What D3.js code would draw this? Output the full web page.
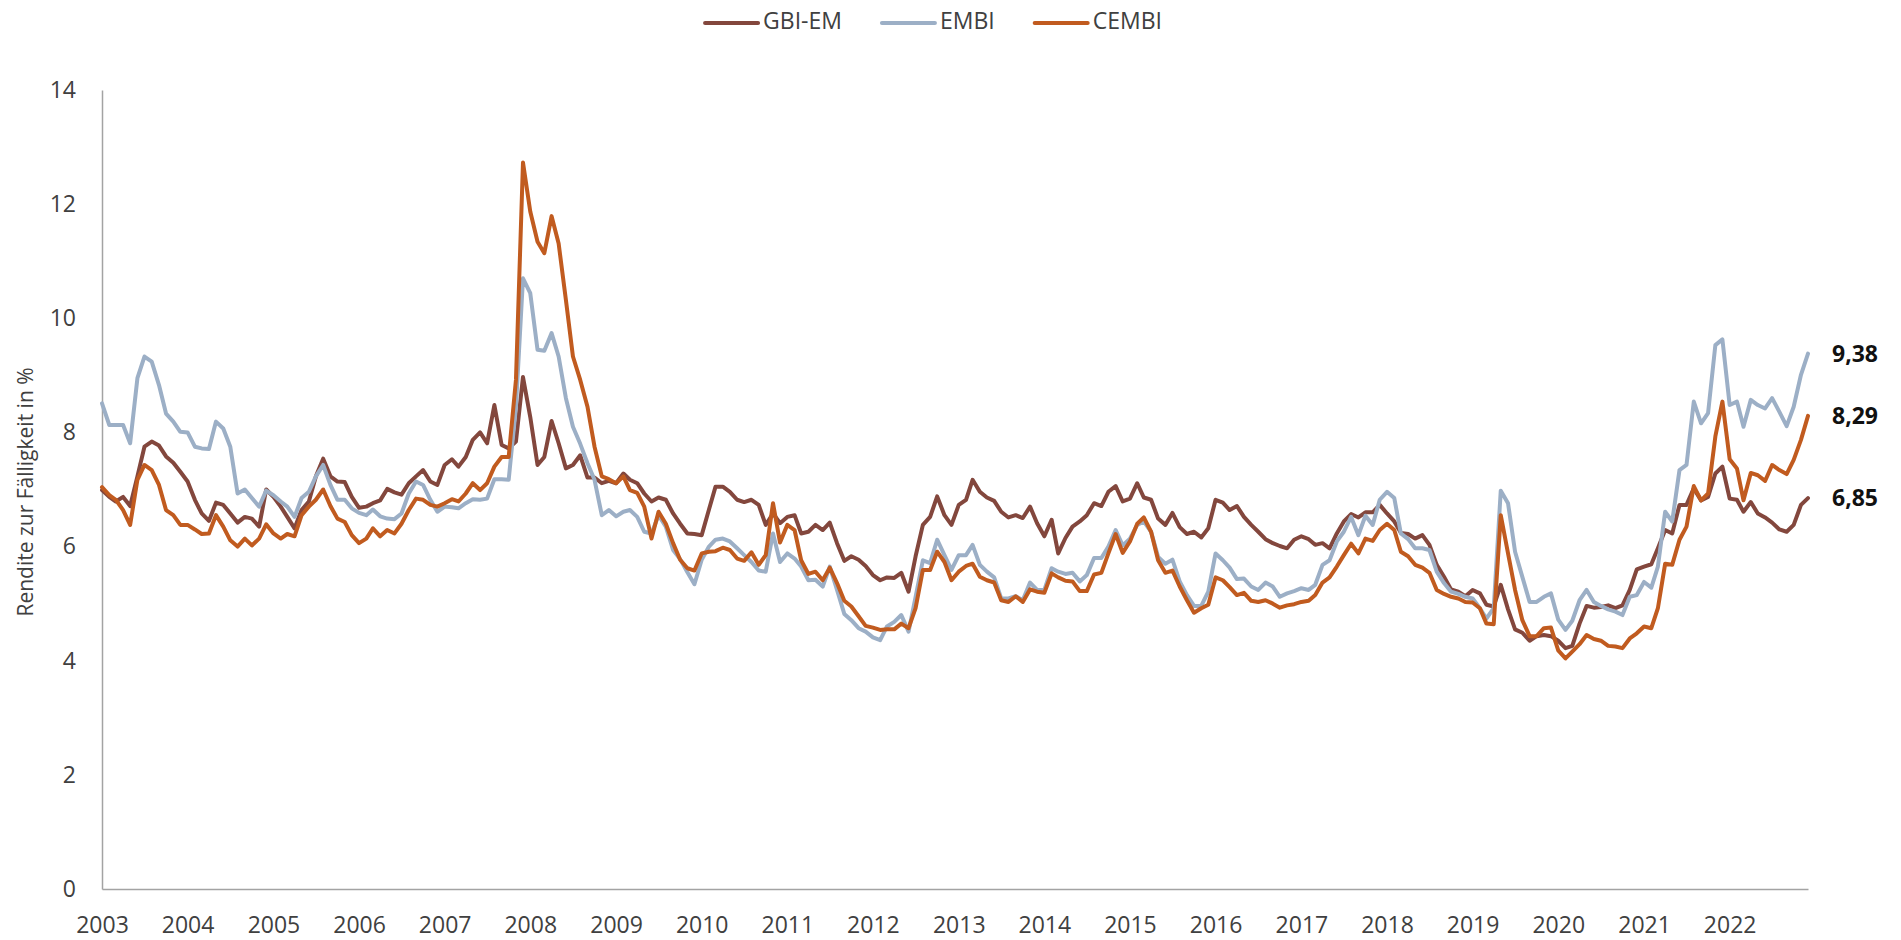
<!DOCTYPE html>
<html>
<head>
<meta charset="utf-8">
<script src="https://cdn.jsdelivr.net/npm/d3@7"></script>
<style>
  html, body { margin: 0; padding: 0; background: #fff; }
  svg { display: block; font-family: "Open Sans", "Noto Sans", sans-serif; }
</style>
</head>
<body>
<svg id="chart" width="1901" height="940"></svg>
<script>
// ---- data (monthly, Jan 2003 – Dec 2022) ----
const seriesNames = ["GBI-EM", "EMBI", "CEMBI"];
const yearLabels = ["2003","2004","2005","2006","2007","2008","2009","2010","2011","2012","2013","2014","2015","2016","2017","2018","2019","2020","2021","2022"];
const yTicks = [0, 2, 4, 6, 8, 10, 12, 14];
const endLabels = ["6,85", "9,38", "8,29"];

const gbiEm = [
  6.99, 6.87, 6.79, 6.87, 6.71, 7.23, 7.75, 7.84, 7.77, 7.58, 7.47, 7.31,
  7.14, 6.82, 6.58, 6.45, 6.77, 6.73, 6.58, 6.42, 6.52, 6.49, 6.35, 7.00,
  6.87, 6.70, 6.52, 6.32, 6.64, 6.79, 7.23, 7.54, 7.23, 7.14, 7.13, 6.87,
  6.68, 6.70, 6.76, 6.81, 7.01, 6.95, 6.91, 7.11, 7.23, 7.34, 7.14, 7.08,
  7.43, 7.53, 7.40, 7.57, 7.87, 8.00, 7.81, 8.48, 7.78, 7.72, 7.84, 8.97,
  8.27, 7.43, 7.57, 8.20, 7.81, 7.37, 7.43, 7.60, 7.21, 7.21, 7.11, 7.15,
  7.11, 7.28, 7.17, 7.11, 6.93, 6.79, 6.86, 6.82, 6.58, 6.40, 6.23, 6.22,
  6.20, 6.65, 7.05, 7.05, 6.96, 6.82, 6.78, 6.82, 6.73, 6.38, 6.58, 6.41,
  6.52, 6.55, 6.23, 6.26, 6.38, 6.29, 6.42, 6.06, 5.75, 5.83, 5.77, 5.66,
  5.50, 5.41, 5.46, 5.45, 5.54, 5.21, 5.83, 6.38, 6.52, 6.88, 6.55, 6.38,
  6.73, 6.82, 7.17, 6.96, 6.86, 6.80, 6.61, 6.51, 6.55, 6.50, 6.70, 6.41,
  6.18, 6.47, 5.88, 6.15, 6.35, 6.44, 6.55, 6.76, 6.71, 6.96, 7.06, 6.79,
  6.84, 7.11, 6.86, 6.82, 6.49, 6.38, 6.59, 6.34, 6.22, 6.26, 6.16, 6.32,
  6.82, 6.77, 6.64, 6.71, 6.52, 6.38, 6.26, 6.13, 6.06, 6.01, 5.97, 6.12,
  6.18, 6.13, 6.03, 6.06, 5.97, 6.23, 6.44, 6.57, 6.51, 6.60, 6.60, 6.73,
  6.58, 6.44, 6.24, 6.22, 6.14, 6.20, 6.03, 5.68, 5.47, 5.25, 5.21, 5.13,
  5.24, 5.18, 4.98, 4.95, 5.33, 4.90, 4.55, 4.49, 4.35, 4.43, 4.45, 4.43,
  4.35, 4.22, 4.26, 4.65, 4.96, 4.93, 4.94, 4.97, 4.92, 4.97, 5.24, 5.60,
  5.65, 5.69, 5.97, 6.29, 6.23, 6.73, 6.73, 7.02, 6.81, 6.87, 7.28, 7.40,
  6.84, 6.82, 6.61, 6.78, 6.58, 6.51, 6.42, 6.30, 6.26, 6.38, 6.73, 6.85
];

const embi = [
  8.51, 8.13, 8.13, 8.13, 7.81, 8.95, 9.33, 9.24, 8.83, 8.33, 8.19, 8.01,
  8.00, 7.75, 7.72, 7.71, 8.19, 8.07, 7.75, 6.93, 7.00, 6.85, 6.70, 6.98,
  6.90, 6.79, 6.70, 6.52, 6.85, 6.96, 7.23, 7.43, 7.08, 6.82, 6.82, 6.67,
  6.59, 6.55, 6.65, 6.53, 6.49, 6.48, 6.58, 6.93, 7.14, 7.08, 6.82, 6.61,
  6.70, 6.69, 6.67, 6.76, 6.83, 6.82, 6.84, 7.18, 7.18, 7.17, 8.45, 10.70,
  10.44, 9.45, 9.43, 9.74, 9.33, 8.60, 8.10, 7.80, 7.46, 7.17, 6.55, 6.64,
  6.53, 6.61, 6.64, 6.52, 6.26, 6.23, 6.55, 6.35, 5.94, 5.78, 5.55, 5.34,
  5.77, 6.00, 6.12, 6.14, 6.09, 5.97, 5.85, 5.73, 5.58, 5.56, 6.23, 5.73,
  5.88, 5.79, 5.65, 5.41, 5.42, 5.30, 5.65, 5.24, 4.82, 4.71, 4.57, 4.51,
  4.41, 4.36, 4.60, 4.68, 4.80, 4.51, 5.12, 5.76, 5.71, 6.12, 5.85, 5.59,
  5.85, 5.85, 6.03, 5.68, 5.56, 5.46, 5.09, 5.09, 5.13, 5.06, 5.37, 5.24,
  5.24, 5.62, 5.56, 5.52, 5.54, 5.39, 5.50, 5.80, 5.80, 6.00, 6.29, 6.02,
  6.14, 6.38, 6.44, 6.26, 5.82, 5.70, 5.77, 5.39, 5.15, 4.96, 4.96, 5.21,
  5.88, 5.76, 5.63, 5.43, 5.44, 5.30, 5.24, 5.37, 5.30, 5.12, 5.18, 5.22,
  5.27, 5.24, 5.33, 5.68, 5.76, 6.09, 6.26, 6.52, 6.20, 6.54, 6.38, 6.82,
  6.96, 6.85, 6.23, 6.13, 5.97, 5.97, 5.94, 5.56, 5.36, 5.21, 5.17, 5.12,
  5.09, 4.92, 4.74, 4.92, 6.98, 6.76, 5.91, 5.47, 5.03, 5.03, 5.12, 5.18,
  4.72, 4.54, 4.70, 5.06, 5.24, 5.03, 4.96, 4.90, 4.86, 4.80, 5.12, 5.15,
  5.38, 5.28, 5.65, 6.61, 6.44, 7.34, 7.43, 8.54, 8.16, 8.34, 9.53, 9.63,
  8.48, 8.54, 8.10, 8.57, 8.48, 8.42, 8.60, 8.36, 8.11, 8.45, 9.01, 9.38
];

const cembi = [
  7.04, 6.90, 6.82, 6.64, 6.38, 7.17, 7.43, 7.34, 7.08, 6.64, 6.55, 6.38,
  6.38, 6.30, 6.22, 6.23, 6.55, 6.35, 6.11, 6.00, 6.14, 6.02, 6.14, 6.39,
  6.23, 6.14, 6.22, 6.18, 6.55, 6.70, 6.82, 7.00, 6.71, 6.49, 6.43, 6.20,
  6.06, 6.14, 6.32, 6.18, 6.29, 6.23, 6.40, 6.64, 6.84, 6.82, 6.73, 6.70,
  6.76, 6.83, 6.79, 6.93, 7.11, 6.99, 7.11, 7.40, 7.57, 7.57, 8.92, 12.73,
  11.87, 11.34, 11.14, 11.79, 11.31, 10.32, 9.33, 8.92, 8.45, 7.75, 7.23, 7.18,
  7.11, 7.23, 6.99, 6.94, 6.70, 6.14, 6.61, 6.40, 6.06, 5.77, 5.62, 5.58,
  5.88, 5.91, 5.92, 5.98, 5.94, 5.79, 5.75, 5.90, 5.68, 5.85, 6.76, 6.07,
  6.38, 6.29, 5.76, 5.52, 5.56, 5.41, 5.63, 5.36, 5.05, 4.95, 4.78, 4.61,
  4.58, 4.54, 4.55, 4.55, 4.65, 4.57, 4.92, 5.59, 5.59, 5.91, 5.73, 5.41,
  5.56, 5.66, 5.70, 5.47, 5.41, 5.37, 5.06, 5.03, 5.13, 5.03, 5.25, 5.21,
  5.19, 5.53, 5.46, 5.40, 5.39, 5.22, 5.22, 5.51, 5.54, 5.88, 6.22, 5.89,
  6.09, 6.40, 6.51, 6.26, 5.76, 5.54, 5.58, 5.30, 5.06, 4.84, 4.92, 4.98,
  5.46, 5.41, 5.29, 5.15, 5.19, 5.05, 5.03, 5.06, 5.00, 4.93, 4.97, 4.99,
  5.03, 5.05, 5.15, 5.37, 5.46, 5.65, 5.85, 6.05, 5.88, 6.14, 6.10, 6.29,
  6.40, 6.29, 5.91, 5.83, 5.68, 5.63, 5.54, 5.24, 5.17, 5.12, 5.09, 5.03,
  5.02, 4.92, 4.65, 4.64, 6.55, 5.88, 5.24, 4.71, 4.43, 4.43, 4.57, 4.58,
  4.18, 4.04, 4.16, 4.29, 4.45, 4.38, 4.35, 4.26, 4.25, 4.22, 4.39, 4.48,
  4.60, 4.57, 4.92, 5.70, 5.68, 6.12, 6.35, 7.06, 6.81, 6.93, 7.93, 8.54,
  7.53, 7.37, 6.81, 7.29, 7.25, 7.15, 7.43, 7.34, 7.27, 7.52, 7.87, 8.29
];

// ---- build ----
const seriesValues = [gbiEm, embi, cembi];
const colors = ["#83473d", "#9cafc6", "#c15b1f"];
const months = d3.range(gbiEm.length).map(i => new Date(2003, i, 1));

const svg = d3.select("#chart");
const x = d3.scaleTime().domain([months[0], months[months.length - 1]]).range([102, 1808]);
const y = d3.scaleLinear().domain([0, 14]).range([889, 90]);

const font = '"Open Sans", "Noto Sans", sans-serif';

// x axis
const xAxis = d3.axisBottom(x)
  .tickValues(yearLabels.map(yl => new Date(+yl, 0, 1)))
  .tickFormat((d, i) => yearLabels[i])
  .tickSize(0).tickSizeOuter(0).tickPadding(28);
const gx = svg.append("g").attr("transform", "translate(0,889)").call(xAxis);
gx.select(".domain").attr("stroke", "#a3a3a3").attr("stroke-width", 1.5);
gx.selectAll("text").attr("font-size", 23).attr("fill", "#404040").attr("font-family", font);

// y axis
const yAxis = d3.axisLeft(y).tickValues(yTicks).tickFormat(d3.format("d"))
  .tickSize(0).tickSizeOuter(0).tickPadding(26);
const gy = svg.append("g").attr("transform", "translate(102,0)").call(yAxis);
gy.select(".domain").attr("stroke", "#a3a3a3").attr("stroke-width", 1.5);
gy.selectAll("text").attr("font-size", 23).attr("fill", "#404040").attr("font-family", font);

// y title
svg.append("text")
  .attr("transform", "translate(33,492) rotate(-90)")
  .attr("text-anchor", "middle")
  .attr("font-size", 21)
  .attr("fill", "#404040")
  .attr("font-family", font)
  .text("Rendite zur Fälligkeit in %");

// lines
const line = d3.line().x((d, i) => x(months[i])).y(d => y(d));
seriesValues.forEach((vals, k) => {
  svg.append("path")
    .datum(vals)
    .attr("fill", "none")
    .attr("stroke", colors[k])
    .attr("stroke-width", 4)
    .attr("stroke-linejoin", "round")
    .attr("stroke-linecap", "round")
    .attr("d", line);
});

// end labels
seriesValues.forEach((vals, k) => {
  svg.append("text")
    .attr("x", 1832)
    .attr("y", y(vals[vals.length - 1]))
    .attr("dy", "0.35em")
    .attr("font-size", 23)
    .attr("font-weight", "bold")
    .attr("fill", "#111")
    .attr("font-family", font)
    .text(endLabels[k]);
});

// legend
const legend = svg.append("g");
let cx = 0;
seriesNames.forEach((name, k) => {
  const g = legend.append("g").attr("transform", `translate(${cx},0)`);
  g.append("line").attr("x1", 0).attr("x2", 53).attr("y1", 23).attr("y2", 23)
    .attr("stroke", colors[k]).attr("stroke-width", 4).attr("stroke-linecap", "round");
  const t = g.append("text").attr("x", 58).attr("y", 28.5)
    .attr("font-size", 23).attr("fill", "#404040").attr("font-family", font).text(name);
  const w = t.node().getComputedTextLength();
  cx += 58 + w + 40;
});
const totalW = cx - 40;
legend.attr("transform", `translate(${933.5 - totalW / 2},0)`);
</script>
</body>
</html>
